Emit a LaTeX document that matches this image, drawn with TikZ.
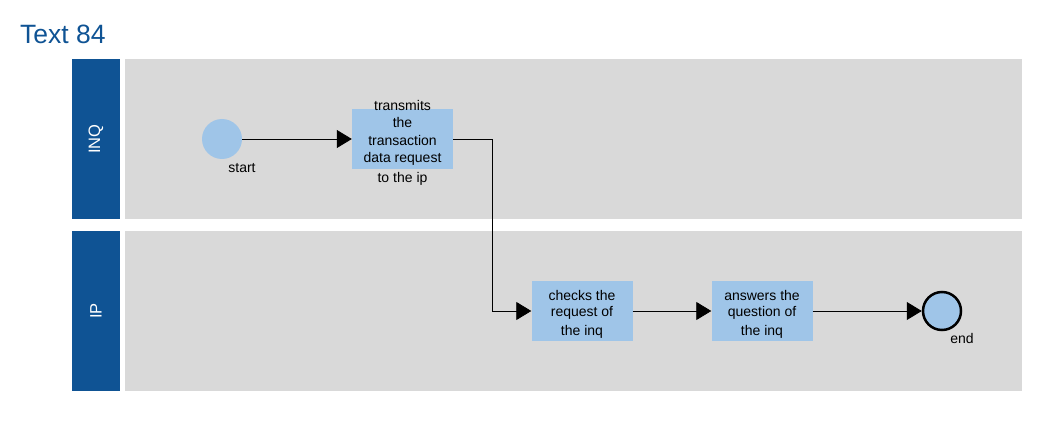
\documentclass[tikz,border=0pt]{standalone}
\usepackage{fontspec}
\setmainfont{Liberation Sans}
\usetikzlibrary{arrows.meta}
\definecolor{hdrblue}{HTML}{0F5394}
\definecolor{lanegray}{HTML}{D9D9D9}
\definecolor{boxblue}{HTML}{9FC5E8}
\begin{document}
\begin{tikzpicture}[x=1pt,y=-1pt,
  taskbox/.style={fill=boxblue,draw=none,minimum width=101pt,minimum height=60pt,inner sep=0pt},
  tasktext/.style={align=center,anchor=north,inner sep=0pt},
  flow/.style={draw=black,line width=0.8pt,-{Triangle[length=15pt,width=18pt]}},
  lbl/.style={font=\fontsize{14}{16}\selectfont,inner sep=0pt},
  lanelbl/.style={font=\fontsize{16.5}{18}\selectfont,text=white,rotate=90,inner sep=0pt}
]
\useasboundingbox (0,0) rectangle (1039,433);
\node[anchor=base west,text=hdrblue,font=\fontsize{26.5}{30}\selectfont,inner sep=0pt] (title) at (20,44) {Text 84};
% lanes
\fill[hdrblue] (72,59) rectangle (120,219);
\fill[lanegray] (125,59) rectangle (1022,219);
\fill[hdrblue] (72,231) rectangle (120,391);
\fill[lanegray] (125,231) rectangle (1022,391);
\node[lanelbl] (l1) at (96,139) {INQ};
\node[lanelbl] (l2) at (96,311) {IP};
% nodes
\node[circle,fill=boxblue,minimum size=40pt,inner sep=0pt] (start) at (222,139) {};
\node[lbl,anchor=base] (startl) at (242,172) {start};
\node[taskbox] (t1) at (402.5,139) {};
\node[tasktext,font=\fontsize{14}{17.5}\selectfont] (t1l) at (402.5,100) {transmits\\the\\transaction\\data request\\[2.5pt]to the ip};
\node[taskbox] (t2) at (582,311) {};
\node[tasktext,font=\fontsize{14}{16}\selectfont] (t2l) at (582,290.5) {checks the\\request of\\[3pt]the inq};
\node[taskbox] (t3) at (762,311) {};
\node[tasktext,font=\fontsize{14}{16}\selectfont] (t3l) at (762,290.5) {answers the\\question of\\[3pt]the inq};
\node[circle,fill=boxblue,draw=black,line width=2.5pt,minimum size=38pt,inner sep=0pt] (end) at (942,311) {};
\node[lbl,anchor=base] (endl) at (962,343) {end};
% flows
\draw[flow] (start) -- (t1);
\draw[flow] (t1.east) -- (492,139) -- (492,311) -- (t2.west);
\draw[flow] (t2) -- (t3);
\draw[flow] (t3) -- (end);
\end{tikzpicture}
\end{document}
